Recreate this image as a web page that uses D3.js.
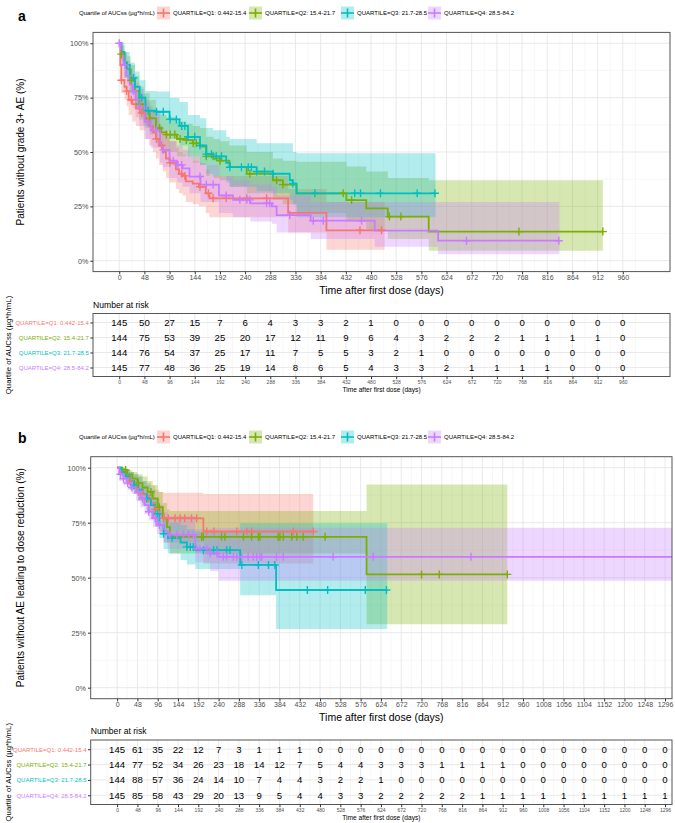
<!DOCTYPE html>
<html><head><meta charset="utf-8">
<script src="https://cdn.jsdelivr.net/npm/d3@7"></script>
<style>body{margin:0;background:#fff}text{font-family:"Liberation Sans",Arial,Helvetica,sans-serif}</style>
</head><body>
<svg id="chart" width="675" height="823"></svg>
<script>
// ---------------- DATA ----------------
const groupLabels = ["QUARTILE=Q1: 0.442-15.4","QUARTILE=Q2: 15.4-21.7","QUARTILE=Q3: 21.7-28.5","QUARTILE=Q4: 28.5-84.2"];
const groupColors = ["#F8766D","#7CAE00","#00BFC4","#C77CFF"];
const legendTitle = "Quartile of AUCss (µg*h/mL)";

const aBreaks = [0,48,96,144,192,240,288,336,384,432,480,528,576,624,672,720,768,816,864,912,960];
const bBreaks = [0,48,96,144,192,240,288,336,384,432,480,528,576,624,672,720,768,816,864,912,960,1008,1056,1104,1152,1200,1248,1296];
const yTicks = [0,25,50,75,100];

// Panel a: KM steps (time, survival %, lower %, upper %), end time, censor times
const aTime = [
  [0,2,4,10,14,18,25,32,39,50,57,64,70,76,83,89,96,108,114,121,127,140,152,165,172,322,395],
  [0,4,10,15,22,30,38,46,58,70,80,90,110,128,140,154,166,180,192,210,243,293,312,338,433,471,512,590],
  [0,4,10,20,30,39,50,71,96,115,131,154,166,179,204,211,262,293,325,331,338],
  [0,3,8,14,20,26,31,38,48,60,78,83,96,110,121,134,155,190,217,250,291,300,365,487,608]
];
const aSurv = [
  [100,90,83,80,78,74,72,70,68,65,62,59,56,53,50,47,45,42,40,39,36.5,35.5,34,31,28.7,22,14],
  [100,95,91,88,83,78,72,69,65.5,61,59,58,56,55.5,54,52.5,48,47,46,43,40,37,35,31,27.9,24.1,20.3,13.4],
  [100,96,90,84,80,75,69,68.5,65,62,57,53,49,48,45,43,41,40,37,35.5,31],
  [100,95,90,85,81,78,74,71,64,60,53,51,46,44,42.5,38.7,35,30,28,26.4,25,21,18.4,13.8,9.2]
];
const aLower = [
  [100,84,77,74,71,67,64,62,60,56,53,50,47,44,41,38,36,33,31,30,27,26,25,22,20,13,5],
  [100,90,85,82,77,71,65,62,58,54,51,50,48,47,45,44,39,38,37,34,31,28,26,22,18,14,10,4.6],
  [100,92,84,77,72,67,61,60,56,53,48,44,40,39,36,34,32,31,28,26,20],
  [100,89,84,78,73,70,66,62,56,52,45,43,38,36,34,31,27,22,20,18,17,13,10,6.4,3]
];
const aUpper = [
  [100,95,89,87,85,82,80,78,76,74,71,68,66,62,60,57,55,52,50,49,47,46,45,42,39,33,27],
  [100,99,96,94,90,85,80,77,74,69,67,66,64,63,62,61,57,56,55,53,50,47,46,45.5,43.3,41,38,37],
  [100,100,96,91,87,83,78,77.8,75,73,67,65.5,61,60,57,56,54,54,54,50,49.4],
  [100,99,96,92,88,86,82,79,73,69,62,60,55,53,51,48,44,39,37,35,34,30,27,27,27]
];
const aEnd = [506,922,603,839];
const aCensor = [
  [4,14,23,43,71,81,97,119,125,154,170,179,204,243,281,459,500],
  [4,23,39,58,77,90,97,106,116,128,141,147,166,179,192,249,300,312,427,443,515,537,762,922],
  [14,27,43,55,71,84,97,109,119,125,131,144,154,166,176,185,195,211,233,246,252,262,277,293,331,373,449,460,498,568,602],
  [0,11,27,39,55,71,84,103,112,119,154,166,179,204,230,243,249,281,287,325,370,389,462,662,838]
];

// Panel b
const bTime = [
  [0,10,20,30,40,50,60,70,80,90,100,110,204],
  [0,12,24,36,48,60,72,84,96,108,118,125,590],
  [0,10,20,30,40,50,60,70,80,90,100,110,120,150,165,185,291,376],
  [0,5,15,25,35,45,55,65,75,85,95,110,120,185,220,240]
];
const bSurv = [
  [100,98,96,94,92,90,88,86,84,81,79,77,71],
  [100,99,97,95,93,91,89,86,82,77,73,68.6,51.5],
  [100,98,96,94,92,90,88,86,83,79,74,70,68,66,64,62.5,55.8,44.4],
  [100,97,95,93,91,89,86,83,80,77,74,71,69.5,63.3,61,59.5]
];
const bLower = [
  [100,96,93,90,88,85,83,80,77,74,71,66,56.5],
  [100,97,94,92,90,87,85,81,77,71,66,61,28.8],
  [100,96,93,90,88,85,83,80,77,73,68,63,61,58,56,54,42,26.7],
  [100,94,92,90,88,85,82,79,76,73,70,66,63,57,53,48.6]
];
const bUpper = [
  [100,100,99,98,97,96,94,93,92,90,89,88.6,88],
  [100,100,99,98,97,96,94,92,89,84,81,80.3,92.4],
  [100,100,99,98,97,96,94,92,90,86,81,77,75,74,72,71,74.7,74.7],
  [100,100,99,98,96,94,92,90,88,85,83,80,78,72,72.7,72.7]
];
const bEnd = [464,923,639,1330];
const bCensor = [
  [30,45,60,75,90,110,121,137,149,160,176,188,212,229,283,307,318,417,464],
  [20,50,80,100,200,204,247,255,299,318,334,338,381,385,393,413,425,440,492,720,762,923],
  [40,70,95,110,130,165,173,180,204,228,236,259,267,295,334,358,373,450,498,587,637],
  [8,15,25,35,50,60,75,90,100,125,141,157,169,180,188,196,212,220,236,251,259,275,283,295,310,322,330,338,342,377,393,511,606,837]
];

// Number at risk
const aRisk = [
  [145,50,27,15,7,6,4,3,3,2,1,0,0,0,0,0,0,0,0,0,0],
  [144,75,53,39,25,20,17,12,11,9,6,4,3,2,2,2,1,1,1,1,0],
  [144,76,54,37,25,17,11,7,5,5,3,2,1,0,0,0,0,0,0,0,0],
  [145,77,48,36,25,19,14,8,6,5,4,3,3,2,1,1,1,1,0,0,0]
];
const bRisk = [
  [145,61,35,22,12,7,3,1,1,1,0,0,0,0,0,0,0,0,0,0,0,0,0,0,0,0,0,0],
  [144,77,52,34,26,23,18,14,12,7,5,4,4,3,3,3,1,1,1,1,0,0,0,0,0,0,0,0],
  [144,88,57,36,24,14,10,7,4,4,3,2,2,1,0,0,0,0,0,0,0,0,0,0,0,0,0,0],
  [145,85,58,43,29,20,13,9,5,4,4,3,3,2,2,2,2,2,1,1,1,1,1,1,1,1,1,1]
];

// ---------------- DRAWING ----------------
const svg = d3.select("#chart");
const FONT = '"Liberation Sans",Arial,Helvetica,sans-serif';
const fmtInt = d3.format("d");
let clipId = 0;

function drawLegend(cy) {
  const g = svg.append("g");
  g.append("text").attr("x", 79).attr("y", cy).attr("dy","0.35em")
    .attr("font-size", 6).attr("fill","#000").text(legendTitle);
  const keyX = [157, 249, 341, 428];
  groupLabels.forEach((lab, i) => {
    const kx = keyX[i], ks = 13;
    g.append("rect").attr("x", kx).attr("y", cy - ks/2).attr("width", ks).attr("height", ks)
      .attr("fill", groupColors[i]).attr("fill-opacity", 0.3);
    g.append("line").attr("x1", kx).attr("x2", kx+ks).attr("y1", cy).attr("y2", cy)
      .attr("stroke", groupColors[i]).attr("stroke-width", 1.6);
    g.append("line").attr("x1", kx+ks/2).attr("x2", kx+ks/2).attr("y1", cy-4.5).attr("y2", cy+4.5)
      .attr("stroke", groupColors[i]).attr("stroke-width", 1.6);
    g.append("text").attr("x", kx+ks+3).attr("y", cy).attr("dy","0.35em")
      .attr("font-size", 6).attr("fill","#000").text(lab);
  });
}

function drawPanel(p) {
  const x = d3.scaleLinear().domain(p.xDom).range([p.L, p.R]);
  const y = d3.scaleLinear().domain([-5, 105]).range([p.B, p.T]);
  const g = svg.append("g");

  svg.append("text").attr("x", 18).attr("y", p.letterY).attr("dy","0.35em")
    .attr("font-size", 14).attr("font-weight","bold").text(p.letter);
  drawLegend(p.legendY);

  // grid
  const minorX = [-24].concat(p.breaks.map(b => b + 24)).filter(v => v > p.xDom[0] && v < p.xDom[1]);
  g.selectAll(".mx").data(minorX).enter().append("line")
    .attr("x1", d=>x(d)).attr("x2", d=>x(d)).attr("y1", p.T).attr("y2", p.B)
    .attr("stroke","#f2f2f2").attr("stroke-width",0.6);
  const minorY = [12.5, 37.5, 62.5, 87.5];
  g.selectAll(".my").data(minorY).enter().append("line")
    .attr("x1", p.L).attr("x2", p.R).attr("y1", d=>y(d)).attr("y2", d=>y(d))
    .attr("stroke","#f2f2f2").attr("stroke-width",0.6);
  g.selectAll(".gx").data(p.breaks).enter().append("line")
    .attr("x1", d=>x(d)).attr("x2", d=>x(d)).attr("y1", p.T).attr("y2", p.B)
    .attr("stroke","#e6e6e6").attr("stroke-width",0.9);
  g.selectAll(".gy").data(yTicks).enter().append("line")
    .attr("x1", p.L).attr("x2", p.R).attr("y1", d=>y(d)).attr("y2", d=>y(d))
    .attr("stroke","#e6e6e6").attr("stroke-width",0.9);

  const cid = "clip" + (clipId++);
  svg.append("clipPath").attr("id", cid).append("rect")
    .attr("x", p.L).attr("y", p.T).attr("width", p.R - p.L).attr("height", p.B - p.T);
  const cg = g.append("g").attr("clip-path", `url(#${cid})`);

  const series = p.time.map((tt, i) => {
    const pts = tt.map((t, j) => ({t, s: p.surv[i][j], lo: p.lower[i][j], hi: p.upper[i][j]}));
    const last = pts[pts.length-1];
    pts.push({t: p.end[i], s: last.s, lo: last.lo, hi: last.hi});
    return pts;
  });

  const area = d3.area().curve(d3.curveStepAfter).x(d=>x(d.t)).y0(d=>y(d.lo)).y1(d=>y(d.hi));
  const line = d3.line().curve(d3.curveStepAfter).x(d=>x(d.t)).y(d=>y(d.s));

  series.forEach((pts, i) => {
    cg.append("path").attr("d", area(pts)).attr("fill", groupColors[i]).attr("fill-opacity", 0.3).attr("stroke","none");
  });
  series.forEach((pts, i) => {
    cg.append("path").attr("d", line(pts)).attr("fill","none").attr("stroke", groupColors[i])
      .attr("stroke-width", 1.8);
  });
  series.forEach((pts, i) => {
    const tt = p.time[i];
    p.censor[i].forEach(c => {
      let j = 0;
      for (let k = 0; k < tt.length; k++) if (tt[k] <= c) j = k;
      const cx = x(c), cy = y(p.surv[i][j]);
      cg.append("line").attr("x1", cx-4).attr("x2", cx+4).attr("y1", cy).attr("y2", cy)
        .attr("stroke", groupColors[i]).attr("stroke-width", 1.4);
      cg.append("line").attr("x1", cx).attr("x2", cx).attr("y1", cy-4).attr("y2", cy+4)
        .attr("stroke", groupColors[i]).attr("stroke-width", 1.4);
    });
  });

  g.append("rect").attr("x", p.L).attr("y", p.T).attr("width", p.R-p.L).attr("height", p.B-p.T)
    .attr("fill","none").attr("stroke","#555").attr("stroke-width",1);

  const xAxis = d3.axisBottom(x).tickValues(p.breaks).tickFormat(fmtInt).tickSize(2.7).tickPadding(1).tickSizeOuter(0);
  const ax = svg.append("g").attr("transform", `translate(0,${p.B})`).call(xAxis);
  ax.select(".domain").remove();
  ax.selectAll("line").attr("stroke","#333");
  ax.selectAll("text").attr("font-size", 7).attr("fill","#4d4d4d").attr("font-family", FONT);
  const yAxis = d3.axisLeft(y).tickValues(yTicks).tickFormat(d => d + "%").tickSize(2.7).tickPadding(2).tickSizeOuter(0);
  const ay = svg.append("g").attr("transform", `translate(${p.L},0)`).call(yAxis);
  ay.select(".domain").remove();
  ay.selectAll("line").attr("stroke","#333");
  ay.selectAll("text").attr("font-size", 7.2).attr("fill","#4d4d4d").attr("font-family", FONT);

  svg.append("text").attr("x", (p.L+p.R)/2).attr("y", p.xTitleY).attr("dy","0.35em")
    .attr("text-anchor","middle").attr("font-size", 10.5).text("Time after first dose (days)");
  svg.append("text").attr("transform", `translate(${p.yTitleX},${(p.T+p.B)/2}) rotate(-90)`)
    .attr("dy","0.35em").attr("text-anchor","middle").attr("font-size", 10).text(p.ytitle);

  // ---- risk table ----
  const tg = svg.append("g");
  svg.append("text").attr("x", p.L).attr("y", p.nrY).attr("dy","0.35em")
    .attr("font-size", 8.6).text("Number at risk");
  const pad = (p.tB - p.tT) * 0.6 / 4.2;
  const yr = d3.scalePoint().domain(groupLabels).range([p.tT + pad, p.tB - pad]);
  tg.selectAll(".tmx").data(minorX).enter().append("line")
    .attr("x1", d=>x(d)).attr("x2", d=>x(d)).attr("y1", p.tT).attr("y2", p.tB)
    .attr("stroke","#f2f2f2").attr("stroke-width",0.6);
  tg.selectAll(".tgx").data(p.breaks).enter().append("line")
    .attr("x1", d=>x(d)).attr("x2", d=>x(d)).attr("y1", p.tT).attr("y2", p.tB)
    .attr("stroke","#e6e6e6").attr("stroke-width",0.9);
  tg.selectAll(".tgy").data(groupLabels).enter().append("line")
    .attr("x1", p.L).attr("x2", p.R).attr("y1", d=>yr(d)).attr("y2", d=>yr(d))
    .attr("stroke","#e6e6e6").attr("stroke-width",0.9);
  p.risk.forEach((row, i) => {
    tg.selectAll(null).data(row).enter().append("text")
      .attr("x", (d, j) => x(p.breaks[j])).attr("y", yr(groupLabels[i])).attr("dy","0.36em")
      .attr("text-anchor","middle").attr("font-size", 9.6).attr("fill","#000").text(d => d);
  });
  tg.append("rect").attr("x", p.L).attr("y", p.tT).attr("width", p.R-p.L).attr("height", p.tB-p.tT)
    .attr("fill","none").attr("stroke","#555").attr("stroke-width",1);
  const tyAxis = d3.axisLeft(yr).tickSize(2.7).tickPadding(1.5);
  const tay = svg.append("g").attr("transform", `translate(${p.L},0)`).call(tyAxis);
  tay.select(".domain").remove();
  tay.selectAll("line").attr("stroke","#333");
  tay.selectAll("text").attr("font-size", 6).attr("font-family", FONT)
    .attr("fill", (d, i) => groupColors[i]);
  const txAxis = d3.axisBottom(x).tickValues(p.breaks).tickFormat(fmtInt).tickSize(2.7).tickPadding(1.5).tickSizeOuter(0);
  const tax = svg.append("g").attr("transform", `translate(0,${p.tB})`).call(txAxis);
  tax.select(".domain").remove();
  tax.selectAll("line").attr("stroke","#333");
  tax.selectAll("text").attr("font-size", 5).attr("fill","#4d4d4d").attr("font-family", FONT);
  svg.append("text").attr("x", (p.L+p.R)/2).attr("y", p.tTitleY).attr("dy","0.35em")
    .attr("text-anchor","middle").attr("font-size", 6.6).text("Time after first dose (days)");
  svg.append("text").attr("transform", `translate(8,${(p.tT+p.tB)/2}) rotate(-90)`)
    .attr("dy","0.35em").attr("text-anchor","middle").attr("font-size", 7.8).text(legendTitle);
}

drawPanel({
  letter: "a", letterY: 16, legendY: 13,
  L: 93, R: 670, T: 32.4, B: 271.6, xDom: [-50, 1050], breaks: aBreaks,
  time: aTime, surv: aSurv, lower: aLower, upper: aUpper, end: aEnd, censor: aCensor,
  xTitleY: 290, yTitleX: 20, ytitle: "Patients without grade 3+ AE (%)",
  nrY: 305, tT: 313.5, tB: 376.5, tTitleY: 390, risk: aRisk
});
drawPanel({
  letter: "b", letterY: 438, legendY: 437,
  L: 90.7, R: 672, T: 456.7, B: 698.7, xDom: [-62.5, 1312.5], breaks: bBreaks,
  time: bTime, surv: bSurv, lower: bLower, upper: bUpper, end: bEnd, censor: bCensor,
  xTitleY: 717, yTitleX: 20, ytitle: "Patients without AE leading to dose reduction (%)",
  nrY: 731, tT: 740, tB: 804.5, tTitleY: 817.5, risk: bRisk
});
</script>
</body></html>
